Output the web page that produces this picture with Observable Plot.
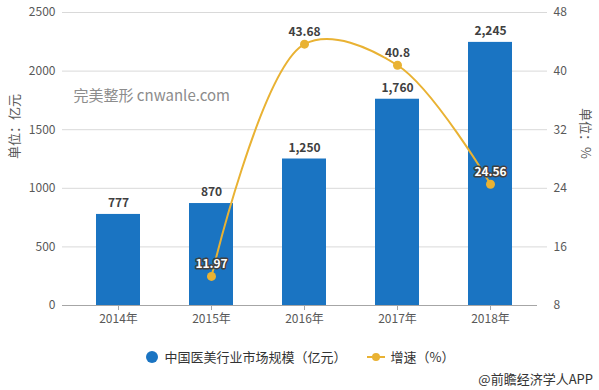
<!DOCTYPE html>
<html><head><meta charset="utf-8">
<script src="https://cdn.jsdelivr.net/npm/d3@7"></script>
<script src="https://cdn.jsdelivr.net/npm/@observablehq/plot@0.6"></script>
<style>
body{margin:0;background:#fff;font-family:"Noto Sans CJK SC","Noto Sans",sans-serif;}
#wrap{position:relative;width:599px;height:390px;}
#legend{position:absolute;left:0;top:347px;width:599px;display:flex;justify-content:center;align-items:center;font-size:13px;color:#333;}
.item{display:flex;align-items:center;margin:0 10px;}
#source{position:absolute;right:6px;top:369px;font-size:13px;color:#333;}
</style></head>
<body><div id="wrap"><div id="chart"></div>
<div id="legend">
 <div class="item"><svg width="14" height="14"><circle cx="7" cy="7" r="6" fill="#1a74c2"/></svg><span style="margin-left:6px">中国医美行业市场规模（亿元）</span></div>
 <div class="item"><svg width="18" height="14"><line x1="0" y1="7" x2="18" y2="7" stroke="#e9b233" stroke-width="2"/><circle cx="9" cy="7" r="4" fill="#e9b233"/></svg><span style="margin-left:6px">增速（%）</span></div>
</div>
<div id="source">@前瞻经济学人APP</div>
</div>
<script>
const years = ["2014年","2015年","2016年","2017年","2018年"];
const marketSize = [777, 870, 1250, 1760, 2245];
const growth = [null, 11.97, 43.68, 40.8, 24.56];
const leftTicks = [0, 500, 1000, 1500, 2000, 2500];
const rightTicks = [8, 16, 24, 32, 40, 48];

const barColor = "#1a74c2";
const lineColor = "#e9b233";
const toLeft = g => (g - 8) / 40 * 2500;

const bars = years.map((y, i) => ({year: y, value: marketSize[i]}));
const pts = years.map((y, i) => ({year: y, g: growth[i]})).filter(d => d.g != null);

const chart = Plot.plot({
  width: 599, height: 335,
  marginTop: 12, marginBottom: 30, marginLeft: 62, marginRight: 52,
  style: {fontFamily: '"Noto Sans CJK SC","Noto Sans",sans-serif', fontSize: "12px", color: "#595959", background: "#fff"},
  x: {domain: years, paddingInner: 0.53, paddingOuter: 0.265, insetLeft: 8, insetRight: 10},
  y: {domain: [0, 2500]},
  marks: [
    Plot.ruleY(leftTicks.slice(1), {stroke: "#d9d9d9"}),
    Plot.text(["完美整形 cnwanle.com"], {frameAnchor: "top-left", dx: 11, dy: 78, textAnchor: "start", fill: "#8c8c8c", fontSize: 15}),
    Plot.barY(bars, {x: "year", y: "value", fill: barColor}),
    Plot.ruleY([0], {stroke: "#a6a6a6", insetRight: 10}),
    Plot.axisX({tickSize: 5, tickPadding: 4, stroke: "#a6a6a6", fill: "#595959", label: null}),
    Plot.axisY(leftTicks, {anchor: "left", tickSize: 0, tickPadding: 7, label: null, fill: "#595959", tickFormat: d => String(d)}),
    Plot.axisY(rightTicks.map(toLeft), {anchor: "right", tickSize: 0, tickPadding: 6, label: null, fill: "#595959", tickFormat: d => String(Math.round(8 + d / 2500 * 40))}),
    Plot.text(["单位：亿元"], {frameAnchor: "left", dx: -48, rotate: -90, fill: "#595959", fontSize: 13}),
    Plot.text(["单位：%"], {frameAnchor: "right", dx: 38, rotate: 90, fill: "#595959", fontSize: 13}),
    Plot.text(bars, {x: "year", y: "value", text: d => d3.format(",")(d.value), dy: -11, fontWeight: "bold", fill: "#404040", fontSize: 12}),
    Plot.line(pts, {x: "year", y: d => toLeft(d.g), stroke: lineColor, strokeWidth: 2, curve: "catmull-rom"}),
    Plot.dot(pts, {x: "year", y: d => toLeft(d.g), r: 4.5, fill: lineColor}),
    Plot.text(pts, {x: "year", y: d => toLeft(d.g), text: d => String(d.g), dy: -12, fontWeight: "bold", fontSize: 12,
      fill: d => (d.g < 30 ? "#fff" : "#404040"), stroke: d => (d.g < 30 ? "#404040" : "#fff"), strokeWidth: 3})
  ]
});
document.getElementById("chart").appendChild(chart);
</script>
</body></html>
